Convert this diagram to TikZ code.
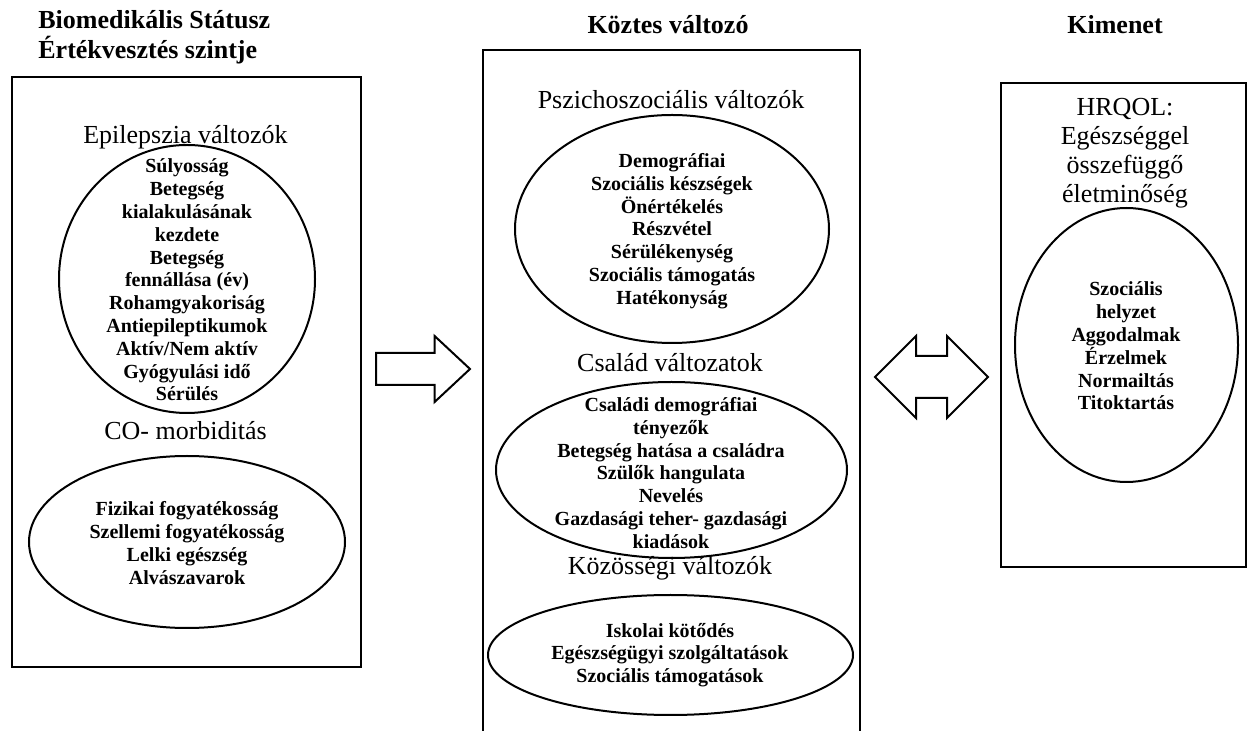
\documentclass[tikz,border=0pt]{standalone}
\usepackage{fontspec}
\setmainfont{Liberation Serif}
\usetikzlibrary{shapes.geometric,shapes.arrows}

\begin{document}
\begin{tikzpicture}[x=0.5pt,y=-0.5pt,
  title/.style={font=\fontsize{13}{15}\selectfont\bfseries,inner sep=0pt},
  frame/.style={draw,line width=1.3pt,rectangle,inner sep=0pt},
  group/.style={font=\fontsize{13}{14.5}\selectfont,inner sep=0pt,align=center},
  oval/.style={draw,line width=1pt,ellipse,inner sep=0pt},
  items/.style={font=\fontsize{10}{11.4}\selectfont\bfseries,inner sep=0pt,align=center},
  blockarrow/.style={draw,line width=1pt,inner sep=0pt,minimum width=0pt}]
\useasboundingbox (0,0) rectangle (1248,731);
\node[title,anchor=west,align=left] (t1) at (38,37) {Biomedikális Státusz\\Értékvesztés szintje};
\node[title] (t2) at (668,25) {Köztes változó};
\node[title] (t3) at (1115,25) {Kimenet};
\node[frame,minimum width=174.5pt,minimum height=295pt] (bio) at (186.5,372) {};
\node[frame,minimum width=188.5pt,minimum height=355pt] (koz) at (671.5,405) {};
\node[frame,minimum width=122.5pt,minimum height=242pt] (kim) at (1123.5,325) {};
\node[oval,minimum width=128pt,minimum height=134pt] (e1) at (187,279) {};
\node[oval,minimum width=158pt,minimum height=86pt] (e2) at (187,542) {};
\node[oval,minimum width=157pt,minimum height=114pt] (e3) at (672,229) {};
\node[oval,minimum width=175.5pt,minimum height=88pt] (e4) at (671.5,470) {};
\node[oval,minimum width=182.5pt,minimum height=60pt] (e5) at (670.5,655) {};
\node[oval,minimum width=111.5pt,minimum height=137pt] (e6) at (1126.5,345) {};
\node[group] (g1) at (185.5,137) {Epilepszia változók};
\node[group] (g2) at (185.5,431) {CO- morbiditás};
\node[group] (g3) at (671,100) {Pszichoszociális változók};
\node[group] (g4) at (670,363) {Család változatok};
\node[group] (g5) at (670,568) {Közösségi változók};
\node[group] (g6) at (1125,153) {HRQOL:\\Egészséggel\\összefüggő\\életminőség};
\node[items] (i1) at (187,280) {Súlyosság\\Betegség\\kialakulásának\\kezdete\\Betegség\\fennállása (év)\\Rohamgyakoriság\\Antiepileptikumok\\Aktív/Nem aktív\\Gyógyulási idő\\Sérülés};
\node[items] (i2) at (187,543) {Fizikai fogyatékosság\\Szellemi fogyatékosság\\Lelki egészség\\Alvászavarok};
\node[items] (i3) at (672,231) {Demográfiai\\Szociális készségek\\Önértékelés\\Részvétel\\Sérülékenység\\Szociális támogatás\\Hatékonyság};
\node[items] (i4) at (671,473) {Családi demográfiai\\tényezők\\Betegség hatása a családra\\Szülők hangulata\\Nevelés\\Gazdasági teher- gazdasági\\kiadások};
\node[items] (i5) at (670,655) {Iskolai kötődés\\Egészségügyi szolgáltatások\\Szociális támogatások};
\node[items] (i6) at (1126,346) {Szociális\\helyzet\\Aggodalmak\\Érzelmek\\Normailtás\\Titoktartás};
\node[blockarrow,single arrow,single arrow head extend=8.5pt,single arrow tip angle=86,minimum height=47pt,inner ysep=7.5pt,anchor=tail] (fwd) at (375,369) {};
\node[blockarrow,double arrow,double arrow head extend=10pt,double arrow tip angle=90,minimum height=56.5pt,inner ysep=10pt] (both) at (931.5,377) {};
\end{tikzpicture}
\end{document}
